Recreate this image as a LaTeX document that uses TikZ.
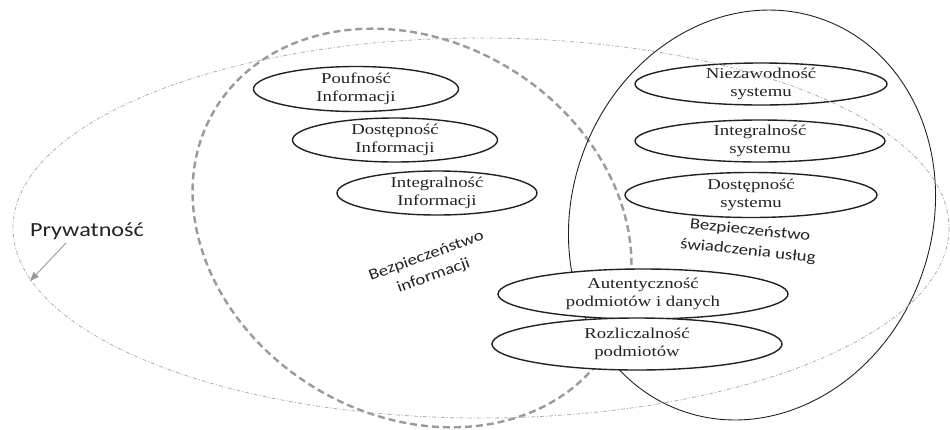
\documentclass[tikz,border=0pt]{standalone}
\usepackage{fontspec}
\setmainfont{Liberation Serif}[FakeStretch=1.25]
\newfontfamily\calfont{Carlito}[FakeStretch=1.21]
\usepackage{tikz}
\usetikzlibrary{arrows.meta,shapes.geometric}
\definecolor{dashgray}{HTML}{9A9A9A}
\definecolor{dotgray}{HTML}{AFAFAF}
\definecolor{txtblack}{HTML}{222222}

\begin{document}
\begin{tikzpicture}[x=1pt,y=-1pt,
  propell/.style={ellipse,draw=txtblack,line width=1.4pt,fill=white,align=center,
    inner xsep=0pt,inner ysep=-2pt,text=txtblack,font=\fontsize{15}{18}\selectfont},
  arealab/.style={align=center,text=txtblack,font=\calfont\fontsize{15.5}{21}\selectfont},
  arr/.style={-{Triangle[length=9pt,width=7pt]},dashgray,line width=0.9pt}]
  \useasboundingbox (0,0) rectangle (950,429);
  % Bezpieczenstwo informacji
  \draw[dashgray,line width=2.4pt,dash pattern=on 7pt off 4pt,
    rotate around={-31:(412,228)}] (412,228) ellipse [x radius=230,y radius=187];
  % Bezpieczenstwo swiadczenia uslug
  \draw[txtblack,line width=0.9pt,rotate around={-20:(752,215)}]
    (752,215) ellipse [x radius=180,y radius=208];
  % Information properties
  \node[propell,minimum width=205pt,minimum height=45pt] (poufI) at (356,89) {Poufność\\Informacji};
  \node[propell,minimum width=205pt,minimum height=44pt] (dostI) at (395,140) {Dostępność\\Informacji};
  \node[propell,minimum width=200pt,minimum height=44pt] (integI) at (437,193) {Integralność\\Informacji};
  % System properties
  \node[propell,minimum width=252pt,minimum height=42pt] (niezS) at (761,84) {Niezawodność\\systemu};
  \node[propell,minimum width=250pt,minimum height=42pt] (integS) at (760,141) {Integralność\\systemu};
  \node[propell,minimum width=252pt,minimum height=45pt] (dostS) at (751,195) {Dostępność\\systemu};
  % Shared properties
  \node[propell,minimum width=290pt,minimum height=50pt] (autent) at (643,294) {Autentyczność\\podmiotów i danych};
  \node[propell,minimum width=290pt,minimum height=52pt] (rozl) at (637,344) {Rozliczalność\\podmiotów};
  % Area labels
  \node[arealab,rotate=20] (bezinf) at (430,266) {Bezpieczeństwo\\informacji};
  \node[arealab,rotate=-6] (bezusl) at (749,241) {Bezpieczeństwo\\świadczenia usług};
  % Prywatnosc
  \draw[dotgray,line width=0.8pt,dash pattern=on 4pt off 2pt on 1pt off 2pt]
    (481,228) ellipse [x radius=468,y radius=190];
  \node[text=txtblack,font=\calfont\fontsize{20}{24}\selectfont] (pryw) at (87,231) {Prywatność};
  \coordinate (prywtip) at (30,281);
  \draw[arr] ([xshift=-21pt]pryw.south) -- (prywtip);
\end{tikzpicture}
\end{document}
